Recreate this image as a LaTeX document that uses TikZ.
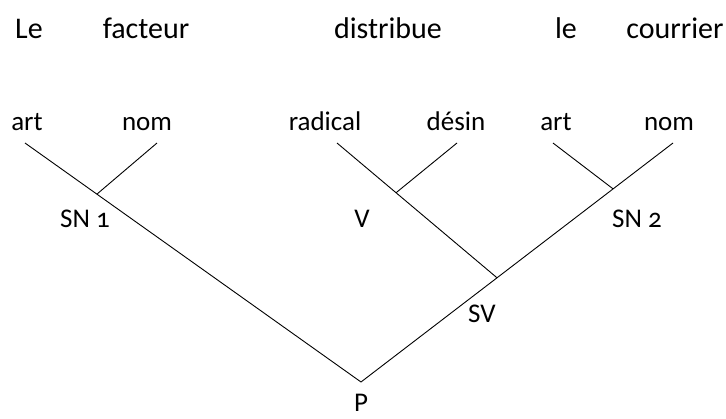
\documentclass[tikz,border=0pt]{standalone}
\usepackage{fontspec}
\setmainfont{Carlito}[Numbers=OldStyle]
\usetikzlibrary{calc}
\tikzset{
  word/.style={anchor=base, inner sep=0pt, font=\fontsize{30}{34}\selectfont},
  lab/.style={anchor=base, inner sep=0pt, font=\fontsize{27}{31}\selectfont},
  branch/.style={draw=black, line width=0.9pt}
}
\begin{document}
\begin{tikzpicture}[x=1pt,y=-1pt]
\useasboundingbox (0,0) rectangle (726,418);
% sentence
\node[word] (w1) at (29,38) {Le};
\node[word] (w2) at (146,38) {facteur};
\node[word] (w3) at (388,38) {distribue};
\node[word] (w4) at (566,38) {le};
\node[word] (w5) at (675,38) {courrier};
% leaf labels
\node[lab] (art1) at (27,130) {art};
\node[lab] (nom1) at (147,130) {nom};
\node[lab] (rad) at (325,130) {radical};
\node[lab] (des) at (456,130) {désin};
\node[lab] (art2) at (556,130) {art};
\node[lab] (nom2) at (669,130) {nom};
% category labels
\node[lab] (sn1) at (85,227) {SN 1};
\node[lab] (v) at (362,227) {V};
\node[lab] (sn2) at (637,227) {SN 2};
\node[lab] (sv) at (482,322) {SV};
\node[lab] (p) at (361,411) {P};
% line ends
\coordinate (tA1) at (25,143);
\coordinate (tN1) at (157,143);
\coordinate (tR) at (337,143);
\coordinate (tD) at (457,143);
\coordinate (tA2) at (553,143);
\coordinate (tN2) at (673,143);
\coordinate (jP) at (361,382);
\coordinate (jSV) at ($(tN2)!0.564!(jP)$);
\coordinate (jSN1) at ($(tA1)!0.214!(jP)$);
\coordinate (jV) at ($(tR)!0.369!(jSV)$);
\coordinate (jSN2) at ($(tN2)!0.192!(jP)$);
% branches
\draw[branch] (tA1) -- (jP);
\draw[branch] (tN1) -- (jSN1);
\draw[branch] (tR) -- (jSV);
\draw[branch] (tD) -- (jV);
\draw[branch] (tA2) -- (jSN2);
\draw[branch] (tN2) -- (jP);
\end{tikzpicture}
\end{document}
